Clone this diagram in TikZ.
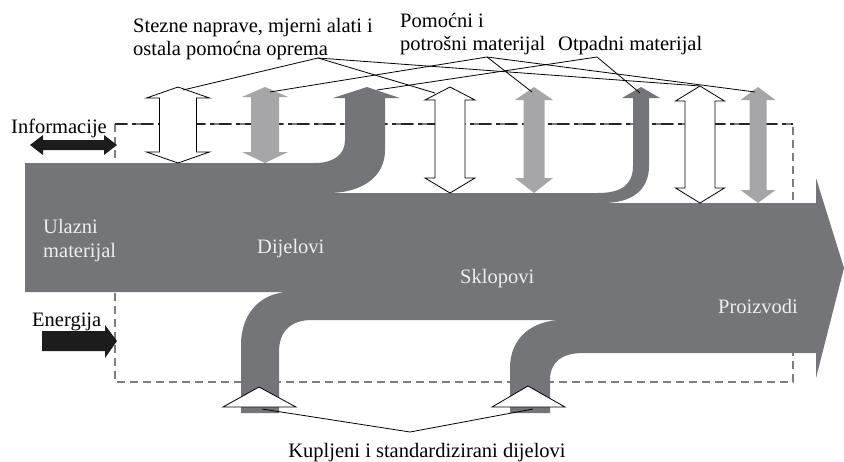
\documentclass[tikz,border=0pt]{standalone}
\usepackage{fontspec}
\setmainfont{Liberation Serif}
\definecolor{maingray}{RGB}{116,117,121}
\definecolor{lgray}{RGB}{166,166,168}
\definecolor{blk}{RGB}{28,28,28}
\definecolor{intext}{RGB}{238,238,238}
\definecolor{boxgray}{RGB}{125,125,125}
\newcommand{\vdarr}[8]{\path[#1] (#2,#5) -- ({#2+#3},#6) -- ({#2+#4},#6) -- ({#2+#4},#7) -- ({#2+#3},#7) -- (#2,#8) -- ({#2-#3},#7) -- ({#2-#4},#7) -- ({#2-#4},#6) -- ({#2-#3},#6) -- cycle;}
\begin{document}
\begin{tikzpicture}[x=1pt,y=-1pt,
  lbl/.style={font=\fontsize{20.5}{23}\selectfont, inner sep=0pt, anchor=base west, text=black},
  inlbl/.style={lbl, text=intext},
  leader/.style={draw=black, line width=0.8pt},
  whitearr/.style={fill=white, draw=black, line width=0.8pt, line join=miter},
  grayarr/.style={fill=lgray},
  boxline/.style={draw=boxgray, line width=1.3pt, dash pattern=on 8pt off 5pt},
  topline/.style={draw=black!85, line width=1.2pt, dash pattern=on 12pt off 5pt on 4pt off 5pt},
  tri/.style={fill=white, draw=black, line width=0.8pt, line join=miter}]
\useasboundingbox (0,0) rectangle (844,461);
% dashed system boundary
\draw[boxline] (115,124) rectangle (793,382);
\draw[topline] (115,124) -- (793,124);
% main material flow
\fill[maingray] (25,163) -- (315,163) .. controls (333,163) and (345,155) .. (345,140)
  -- (345,98) -- (333,98) -- (367,87) -- (400,98) -- (385,98) -- (385,150)
  .. controls (385,177) and (362,193) .. (328,193)
  -- (598,193) .. controls (622,193) and (633,184) .. (633,166)
  -- (633,98) -- (622,98) -- (641,87) -- (660,98) -- (649,98) -- (649,166)
  .. controls (649,190) and (632,203) .. (603,203)
  -- (816,203) -- (816,178) -- (844,268) -- (816,378) -- (816,353)
  -- (583,353) .. controls (562,353) and (550,362) .. (550,380)
  -- (550,413) -- (510,413) -- (510,368) .. controls (510,337) and (533,320) .. (563,320)
  -- (312,320) .. controls (292,320) and (279,330) .. (279,352)
  -- (279,413) -- (241,413) -- (241,345) .. controls (241,312) and (262,292) .. (290,292)
  -- (25,292) -- cycle;
% auxiliary double arrows
\vdarr{whitearr}{178}{31.5}{18.5}{87}{98}{152}{163}
\vdarr{grayarr}{265}{23}{14}{87}{97}{152}{163}
\vdarr{whitearr}{450}{25}{15}{87}{100}{178}{193}
\vdarr{grayarr}{534}{19}{10.5}{87}{100}{178}{193}
\vdarr{whitearr}{700}{24.5}{15}{86}{101}{188}{203}
\vdarr{grayarr}{758}{17.5}{8.5}{87}{100}{190}{203}
% purchased parts triangles
\path[tri] (259,387) -- (296,407) -- (223,407) -- cycle;
\path[tri] (528,386) -- (565,407) -- (492,407) -- cycle;
% information and energy arrows
\fill[blk] (30,145) -- (43,135) -- (43,140) -- (104,140) -- (104,135) -- (117,145)
  -- (104,155) -- (104,150) -- (43,150) -- (43,155) -- cycle;
\fill[blk] (42,331) -- (105,331) -- (105,325) -- (117,341) -- (105,358) -- (105,351) -- (42,351) -- cycle;
% labels
\node[lbl] (stez1) at (133,32) {Stezne naprave, mjerni alati i};
\node[lbl] (stez2) at (133,55) {ostala pomoćna oprema};
\node[lbl] (pom1) at (400,27) {Pomoćni i};
\node[lbl] (pom2) at (400,50) {potrošni materijal};
\node[lbl] (otp) at (558,50) {Otpadni materijal};
\node[lbl] (info) at (11,133) {Informacije};
\node[lbl] (ener) at (32,326) {Energija};
\node[inlbl] (ul1) at (43,233) {Ulazni};
\node[inlbl] (ul2) at (43,257) {materijal};
\node[inlbl] (dij) at (257,253) {Dijelovi};
\node[inlbl] (skl) at (460,283) {Sklopovi};
\node[inlbl] (pro) at (718,313) {Proizvodi};
\node[lbl, anchor=base] (kup) at (427,457) {Kupljeni i standardizirani dijelovi};
% leader anchors
\coordinate (stezA) at (318,58);
\coordinate (pomA) at (487,57);
\coordinate (otpA) at (597,57);
\coordinate (kupA) at (410,432);
\coordinate (w1) at (183,90);
\coordinate (w2) at (435,93);
\coordinate (w3) at (700,86);
\coordinate (g1) at (270,92);
\coordinate (g2) at (532,92);
\coordinate (g3) at (755,92);
\coordinate (o1) at (377,90);
\coordinate (o2) at (640,93);
\coordinate (k1) at (262,409);
\coordinate (k2) at (533,409);
\draw[leader] (w1) -- (stezA) -- (w2);
\draw[leader] (stezA) -- (w3);
\draw[leader] (g1) -- (pomA) -- (g2);
\draw[leader] (pomA) -- (g3);
\draw[leader] (o1) -- (otpA) -- (o2);
\draw[leader] (k1) -- (kupA) -- (k2);
\end{tikzpicture}
\end{document}
